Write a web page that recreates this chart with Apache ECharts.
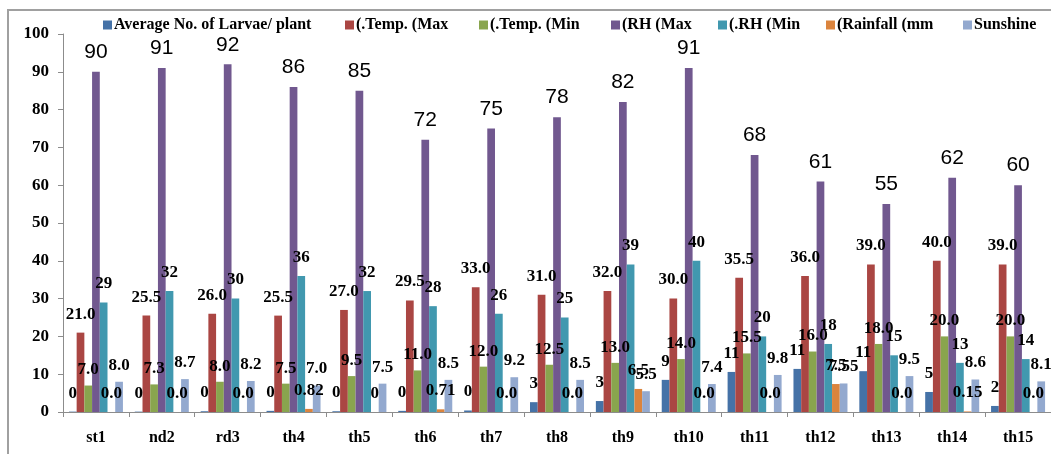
<!DOCTYPE html>
<html>
<head>
<meta charset="utf-8">
<script src="https://cdn.jsdelivr.net/npm/echarts@6/dist/echarts.min.js"></script>
<style>
html,body{margin:0;padding:0;background:#fff;}
#frame{position:absolute;left:7px;top:9px;width:1050px;height:443px;border-left:2px solid #a0a0a0;border-top:2px solid #a0a0a0;}
#chart{position:absolute;left:0;top:0;width:1051px;height:456px;}
</style>
</head>
<body>
<div id="frame"></div>
<div id="chart"></div>
<script>
const categories = ['st1','nd2','rd3','th4','th5','th6','th7','th8','th9','th10','th11','th12','th13','th14','th15'];
const seriesNames = ['Average No. of Larvae/ plant','(.Temp. (Max','(.Temp. (Min','(RH (Max','(.RH (Min','(Rainfall (mm','Sunshine'];
const larvae = [0.1,0.1,0.2,0.3,0.2,0.3,0.4,2.6,2.9,8.5,10.6,11.4,10.8,5.3,1.6];
const tempMax = [21.0,25.5,26.0,25.5,27.0,29.5,33.0,31.0,32.0,30.0,35.5,36.0,39.0,40.0,39.0];
const tempMin = [7.0,7.3,8.0,7.5,9.5,11.0,12.0,12.5,13.0,14.0,15.5,16.0,18.0,20.0,20.0];
const rhMax = [90,91,92,86,85,72,75,78,82,91,68,61,55,62,60];
const rhMin = [29,32,30,36,32,28,26,25,39,40,20,18,15,13,14];
const rainfall = [0,0,0,0.82,0,0.71,0,0,6.1,0,0,7.4,0,0.15,0];
const rainfallLabels = ['0.0','0.0','0.0','0.82','0','0.71','0.0','0.0','6.5','0.0','0.0','7.5','0.0','0.15','0.0'];
const sunshine = [8.0,8.7,8.2,7.0,7.5,8.5,9.2,8.5,5.5,7.4,9.8,7.55,9.5,8.6,8.1];
const yTicks = {min:0, max:100, interval:10};

const colors = ['#4572A7','#AA4643','#89A54E','#71588F','#4198AF','#DB843D','#93A9CF'];
const serifBold = {fontFamily:'Liberation Serif', fontWeight:'bold', color:'#000'};
const dataSets = [larvae,tempMax,tempMin,rhMax,rhMin,rainfall,sunshine];
const fmts = [
  p => String(Math.round(p.value)),
  p => p.value.toFixed(1),
  p => p.value.toFixed(1),
  p => String(Math.round(p.value)),
  p => String(Math.round(p.value)),
  p => rainfallLabels[p.dataIndex],
  p => (Math.abs(p.value*10 - Math.round(p.value*10))<1e-9 ? p.value.toFixed(1) : String(p.value))
];
const offsets = [[0,-5],[0,-5],[0,-2],[0,-4],[0,-5],[0,-5],[0,-3]];

const series = dataSets.map((d,i) => ({
  name: seriesNames[i],
  type: 'bar',
  data: d,
  barGap: '0%',
  barCategoryGap: '18%',
  itemStyle: {color: colors[i]},
  label: i === 3 ? {
    show:true, position:'top', formatter: fmts[i], offset: offsets[i],
    fontFamily:'Liberation Sans', fontSize:21, color:'#000'
  } : Object.assign({
    show:true, position:'top', formatter: fmts[i], offset: offsets[i], fontSize:17
  }, serifBold),
  z: 2
}));

const legendLefts = [103,345,479,611,718,826,963];
const legends = seriesNames.map((n,i) => ({
  data:[n], left: legendLefts[i], top: 17,
  icon:'rect', itemWidth:9, itemHeight:9, itemGap:0, padding:0,
  textStyle: Object.assign({fontSize:16, padding:[0,0,0,-3]}, serifBold),
  selectedMode:false
}));

const chart = echarts.init(document.getElementById('chart'), null, {renderer:'canvas'});
chart.setOption({
  animation:false,
  color: colors,
  legend: legends,
  grid: {left:63, right:0, top:34, bottom:44, containLabel:false},
  xAxis: {
    type:'category', data: categories,
    axisLine:{lineStyle:{color:'#8c8c8c', width:1}},
    axisTick:{show:true, length:5, lineStyle:{color:'#8c8c8c'}},
    axisLabel: Object.assign({fontSize:16, margin:18}, serifBold)
  },
  yAxis: {
    type:'value', min:yTicks.min, max:yTicks.max, interval:yTicks.interval,
    axisLine:{show:true, lineStyle:{color:'#8c8c8c', width:1}},
    axisTick:{show:true, length:5, lineStyle:{color:'#8c8c8c'}},
    splitLine:{show:false},
    axisLabel: Object.assign({fontSize:17, margin:14}, serifBold)
  },
  series: series
});
</script>
</body>
</html>
